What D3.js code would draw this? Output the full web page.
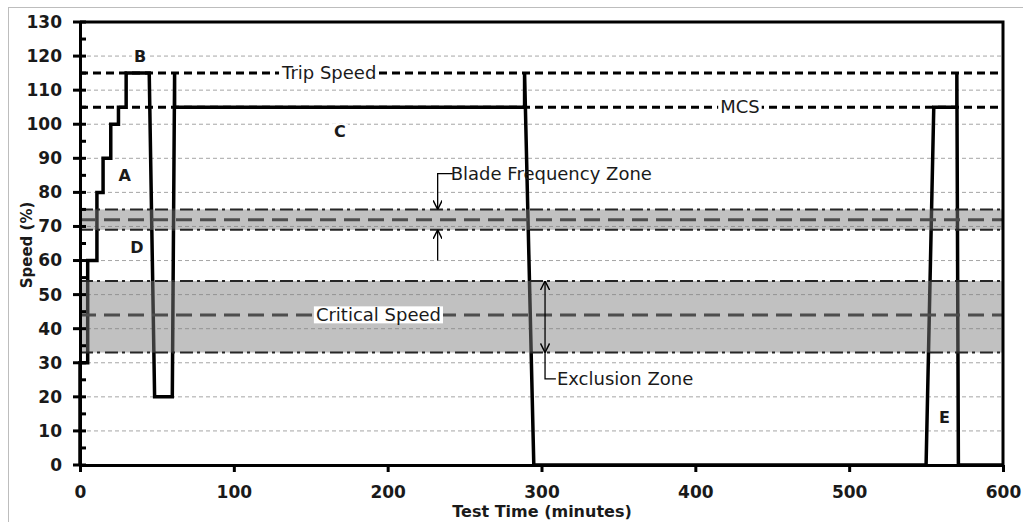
<!DOCTYPE html>
<html>
<head>
<meta charset="utf-8">
<script src="https://cdn.jsdelivr.net/npm/d3@7"></script>
<style>
  body { margin: 0; background: #fff; }
  svg text { font-family: "DejaVu Sans", sans-serif; }
</style>
</head>
<body>
<div id="chart"></div>
<script>
// speed profile (minutes, % speed)
var profileTime  = [0, 0, 5, 5, 11, 11, 15, 15, 20, 20, 25, 25, 30, 30, 45, 48.5, 60, 61.5, 61.5, 289, 289, 295, 550, 555, 570, 570, 571, 600];
var profileSpeed = [0, 30, 30, 60, 60, 80, 80, 90, 90, 100, 100, 105, 105, 115, 115, 20, 20, 115, 105, 105, 115, 0, 0, 105, 105, 115, 0, 0];

var refNames  = ['Trip Speed', 'MCS'];
var refSpeeds = [115, 105];
var refLabelTime = [162, 429];

var bandNames   = ['Blade Frequency Zone', 'Critical Speed'];
var bandLow     = [69, 33];
var bandHigh    = [75, 54];
var bandCentre  = [72, 44];

var letters      = ['A', 'B', 'C', 'D', 'E'];
var letterTime   = [29, 39, 169, 37, 562];
var letterSpeed  = [85, 120, 98, 64, 14];

var xTicks = [0, 100, 200, 300, 400, 500, 600];
var yTicks = d3.range(0, 131, 10);
var yMinor = d3.range(5, 130, 10);
var gridVals = d3.range(10, 121, 10);

var margins = {left: 80, top: 22, right: 20, bottom: 57},
    width = 923,
    height = 443;

var svg = d3.select('#chart').append('svg')
    .attr('width', 1023)
    .attr('height', 522);

// outer chart frame
svg.append('rect')
    .attr('x', 8.5).attr('y', 7.5)
    .attr('width', 1030).attr('height', 530)
    .attr('fill', 'none').attr('stroke', '#bdbdbd').attr('stroke-width', 1);

var g = svg.append('g').attr('transform', 'translate(' + margins.left + ',' + margins.top + ')');

var x = d3.scaleLinear().domain([0, 600]).range([0, width]);
var y = d3.scaleLinear().domain([0, 130]).range([height, 0]);

// gridlines
g.selectAll('.grid').data(gridVals).enter().append('line')
    .attr('x1', 0).attr('x2', width)
    .attr('y1', function(d) { return y(d); }).attr('y2', function(d) { return y(d); })
    .attr('stroke', '#a6a6a6').attr('stroke-width', 1).attr('stroke-dasharray', '4,3');

// trip speed / MCS
g.selectAll('.ref').data(refSpeeds).enter().append('line')
    .attr('x1', 0).attr('x2', width)
    .attr('y1', function(d) { return y(d); }).attr('y2', function(d) { return y(d); })
    .attr('stroke', '#000').attr('stroke-width', 3).attr('stroke-dasharray', '8,5');

// the speed profile
var line = d3.line()
    .x(function(d, i) { return x(profileTime[i]); })
    .y(function(d) { return y(d); });

g.append('path')
    .datum(profileSpeed)
    .attr('d', line)
    .attr('fill', 'none').attr('stroke', '#000').attr('stroke-width', 3.5)
    .attr('stroke-linejoin', 'miter');

// bands sit over the profile, semi transparent
bandNames.forEach(function(name, i) {
    g.append('rect')
        .attr('x', 0).attr('width', width)
        .attr('y', y(bandHigh[i])).attr('height', y(bandLow[i]) - y(bandHigh[i]))
        .attr('fill', '#7d7d7d').attr('fill-opacity', 0.48);

    [bandLow[i], bandHigh[i]].forEach(function(v) {
        g.append('line')
            .attr('x1', 0).attr('x2', width)
            .attr('y1', y(v)).attr('y2', y(v))
            .attr('stroke', '#262626').attr('stroke-width', 2)
            .attr('stroke-dasharray', '13,4,3,5');
    });

    g.append('line')
        .attr('x1', 0).attr('x2', width)
        .attr('y1', y(bandCentre[i])).attr('y2', y(bandCentre[i]))
        .attr('stroke', '#4d4d4d').attr('stroke-width', 3)
        .attr('stroke-dasharray', '16,8');
});

// labels with white boxes
function boxedLabel(txt, cx, cy, size, weight, anchor) {
    var t = g.append('text')
        .attr('x', cx).attr('y', cy)
        .attr('dy', '0.35em')
        .attr('text-anchor', anchor || 'middle')
        .attr('font-size', size)
        .attr('font-weight', weight || 'normal')
        .attr('fill', '#1a1a1a')
        .text(txt);
    var bb = t.node().getBBox();
    g.insert('rect', function() { return t.node(); })
        .attr('x', bb.x - 2).attr('y', bb.y + 2)
        .attr('width', bb.width + 4).attr('height', bb.height - 4)
        .attr('fill', '#fff');
    return t;
}

refNames.forEach(function(name, i) {
    boxedLabel(name, x(refLabelTime[i]), y(refSpeeds[i]), 18);
});

boxedLabel('Critical Speed', x(194), y(bandCentre[1]), 18);

letters.forEach(function(l, i) {
    boxedLabel(l, x(letterTime[i]), y(letterSpeed[i]), 16, 'bold');
});

// blade frequency callout
var bladeX = x(232.5);
g.append('defs').append('marker')
    .attr('id', 'arrow')
    .attr('viewBox', '0 0 10 10')
    .attr('refX', 10).attr('refY', 5)
    .attr('markerWidth', 7).attr('markerHeight', 7)
    .attr('orient', 'auto-start-reverse')
    .append('path')
    .attr('d', 'M0,0 L10,5 L0,10')
    .attr('fill', 'none').attr('stroke', '#000').attr('stroke-width', 1.6);

g.append('path')
    .attr('d', 'M' + (x(241) + 2) + ',' + y(85.5) + 'H' + bladeX + 'V' + y(bandHigh[0]))
    .attr('fill', 'none').attr('stroke', '#000').attr('stroke-width', 1.3)
    .attr('marker-end', 'url(#arrow)');
g.append('path')
    .attr('d', 'M' + bladeX + ',' + y(60) + 'V' + y(bandLow[0]))
    .attr('fill', 'none').attr('stroke', '#000').attr('stroke-width', 1.3)
    .attr('marker-end', 'url(#arrow)');
g.append('text')
    .attr('x', x(241)).attr('y', y(85.5)).attr('dy', '0.35em')
    .attr('font-size', 18).attr('fill', '#1a1a1a')
    .text(bandNames[0]);

// exclusion zone callout
var exX = x(302.3);
g.append('path')
    .attr('d', 'M' + exX + ',' + y(bandLow[1]) + 'V' + y(bandHigh[1]))
    .attr('fill', 'none').attr('stroke', '#000').attr('stroke-width', 1.3)
    .attr('marker-start', 'url(#arrow)').attr('marker-end', 'url(#arrow)');
g.append('path')
    .attr('d', 'M' + exX + ',' + y(bandLow[1]) + 'V' + y(25.3) + 'H' + (x(310) - 1))
    .attr('fill', 'none').attr('stroke', '#000').attr('stroke-width', 1.3);
g.append('text')
    .attr('x', x(310)).attr('y', y(25.3)).attr('dy', '0.35em')
    .attr('font-size', 18).attr('fill', '#1a1a1a')
    .text('Exclusion Zone');

// plot frame top and right
g.append('path')
    .attr('d', 'M0,0H' + width + 'V' + height)
    .attr('fill', 'none').attr('stroke', '#000').attr('stroke-width', 3);

// axes
var yAxis = g.append('g').call(d3.axisLeft(y).tickValues(yTicks).tickSize(0).tickPadding(18));
yAxis.select('.domain').attr('stroke-width', 3);
yAxis.selectAll('text').attr('font-size', 17).attr('font-weight', 'bold').attr('fill', '#1a1a1a');

g.selectAll('.ymaj').data(yTicks).enter().append('line')
    .attr('x1', -7).attr('x2', 6)
    .attr('y1', function(d) { return y(d); }).attr('y2', function(d) { return y(d); })
    .attr('stroke', '#000').attr('stroke-width', 3);
g.selectAll('.ymin').data(yMinor).enter().append('line')
    .attr('x1', 0).attr('x2', 6)
    .attr('y1', function(d) { return y(d); }).attr('y2', function(d) { return y(d); })
    .attr('stroke', '#000').attr('stroke-width', 3);

var xAxis = g.append('g').attr('transform', 'translate(0,' + height + ')')
    .call(d3.axisBottom(x).tickValues(xTicks).tickSize(7).tickPadding(14).tickSizeOuter(0));
xAxis.select('.domain').attr('stroke-width', 3);
xAxis.selectAll('line').attr('stroke-width', 3);
xAxis.selectAll('text').attr('font-size', 17).attr('font-weight', 'bold').attr('fill', '#1a1a1a');

// axis titles
svg.append('text')
    .attr('transform', 'translate(27,245) rotate(-90)')
    .attr('text-anchor', 'middle').attr('dy', '0.35em')
    .attr('font-size', 15).attr('font-weight', 'bold').attr('fill', '#1a1a1a')
    .text('Speed (%)');
svg.append('text')
    .attr('x', 542).attr('y', 511)
    .attr('text-anchor', 'middle').attr('dy', '0.35em')
    .attr('font-size', 16).attr('font-weight', 'bold').attr('fill', '#1a1a1a')
    .text('Test Time (minutes)');
</script>
</body>
</html>
